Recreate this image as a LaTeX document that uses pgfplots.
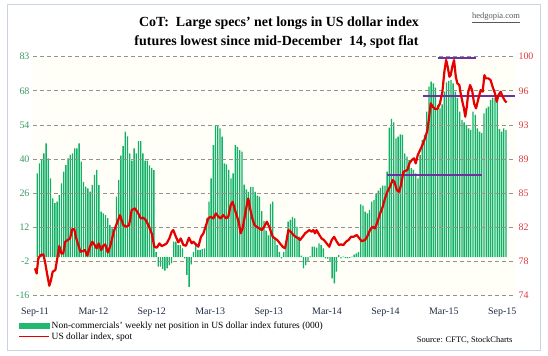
\documentclass[border=0pt]{standalone}
\usepackage{fontspec}
\setmainfont{Liberation Serif}
\usepackage{pgfplots}
\pgfplotsset{compat=1.18}
\definecolor{barfill}{HTML}{10B066}
\definecolor{legfill}{HTML}{22B870}
\definecolor{dxred}{HTML}{E60000}
\definecolor{purp}{HTML}{7030A0}
\definecolor{leftlab}{HTML}{3A9A60}
\definecolor{rightlab}{HTML}{E03A3A}
\definecolor{xlab}{HTML}{1F2A44}
\definecolor{frame}{HTML}{C8D4E1}

\pgfplotstableread{
i v
0 34.7
1 38.8
2 40.2
3 43.0
4 47.1
5 40.9
6 32.6
7 24.3
8 22.3
9 23.0
10 25.7
11 30.5
12 35.4
13 38.1
14 40.9
15 42.3
16 43.0
17 45.0
18 45.0
19 47.1
20 39.5
21 31.2
22 29.2
23 28.5
24 27.1
25 29.9
26 34.0
27 36.1
28 29.9
29 18.8
30 18.1
31 17.4
32 16.1
33 13.3
34 11.9
35 10
36 25
37 32
38 42
39 46
40 52
41 50
42 43
43 40
44 45
45 43
46 48
47 48
48 43
49 40
50 40
51 38
52 37
53 36
54 2
55 -4
56 -4
57 -4.9
58 -5.6
59 -4.7
60 -3.3
61 -2.6
62 6.4
63 6.4
64 5
65 5
66 3.6
67 -0.5
68 -7.4
69 -12.3
70 -3
71 2.2
72 5
73 3
74 3
75 3.3
76 3.6
77 16
78 23
79 32.6
80 46.4
81 54.7
82 54.7
83 53.3
84 49.9
85 38.8
86 38.4
87 36.1
88 32.6
89 34.7
90 46.4
91 45.7
92 44.3
93 43.7
94 30
95 28
96 27
97 29
98 29
99 27
100 25.5
101 25
102 19
103 15
104 11
105 9
106 22
107 23
108 7.8
109 5
110 2.2
111 -0.5
112 2.2
113 5
114 14.7
115 15.4
116 16.7
117 16
118 12.6
119 8.5
120 0.6
121 -4.7
122 -3.3
123 -1.9
124 0.3
125 4.3
126 4.3
127 3.9
128 5.7
129 5
130 3.6
131 -0.5
132 -0.6
133 -1.9
134 -8.8
135 -10.9
136 -6.0
137 0.8
138 -0.5
139 0.2
140 -0.3
141 -0.5
142 -0.3
143 0.2
144 1
145 1.5
146 2
147 21.8
148 21.3
149 18.8
150 18.1
151 19.5
152 23
153 23.6
154 26.4
155 27.5
156 28.7
157 29.6
158 29.6
159 35.4
160 53.6
161 57.2
162 55.8
163 49.2
164 49.9
165 50.8
166 50.6
167 43
168 41.6
169 40.2
170 36.8
171 36.1
172 34.7
173 32.6
174 42.3
175 48.5
176 50.6
177 60.2
178 70.6
179 72.7
180 72
181 70.2
182 63
183 61.6
184 63.3
185 68.5
186 72.4
187 73
188 73.3
189 72
190 68.5
191 65.8
192 60.2
193 56.8
194 55.8
195 54.7
196 53.3
197 52.6
198 60.2
199 58.9
200 53.3
201 52
202 51.3
203 59.5
204 61.6
205 62.3
206 65.1
207 66
208 65.8
209 64.4
210 53
211 52
212 53.3
213 52.6
}\netpos

\pgfplotstableread{
i v
-1.05 76.97
-0.29 76.42
0.47 78.06
1.53 78.42
2.74 78.49
3.5 77.70
4.56 76.24
5.47 75.08
6.23 75.70
6.98 76.61
8.2 76.79
9.1 78.06
10.0 79.40
10.9 78.60
11.8 78.60
12.7 79.87
13.8 80.05
14.9 80.23
15.8 81.21
16.8 81.25
17.7 80.23
18.6 79.58
19.6 78.78
20.6 78.85
21.7 78.96
22.7 78.35
23.95 79.33
25.0 79.87
25.9 79.58
27.0 79.15
27.9 79.69
29.0 78.96
30.0 79.44
30.9 79.58
32.0 78.71
33.1 79.33
34.1 80.31
35.0 81.14
37.6 82.77
39.1 81.68
40.6 81.50
41.7 81.68
42.9 83.32
44.4 83.50
45.9 82.95
47.0 82.41
48.2 82.48
49.3 82.23
50.5 81.68
52.0 80.78
53.2 79.33
54.3 79.22
55.5 79.69
56.5 79.40
57.6 79.51
58.8 79.69
60.0 80.23
61.1 80.96
61.8 81.14
63.0 80.41
64.1 79.80
65.2 80.23
66.4 79.51
67.6 79.44
68.9 80.31
70.2 79.69
70.9 79.87
72.4 79.51
73.2 79.33
74.4 80.41
75.5 80.78
76.7 81.68
77.7 82.41
78.8 82.59
80.0 82.41
81.2 82.95
82.3 82.59
83.3 82.41
84.5 82.77
85.8 82.41
86.8 82.59
87.9 83.86
88.8 84.22
89.6 83.50
90.6 82.77
91.7 81.86
92.4 80.78
93.3 81.32
94.4 82.77
95.5 84.22
95.9 84.59
96.7 83.50
97.7 82.41
98.7 81.68
99.7 81.50
100.9 81.32
102.0 81.14
103.1 81.50
104.3 82.05
105.4 81.50
106.3 80.90
107.0 80.41
108.0 80.23
109.1 80.05
110.3 79.69
111.5 79.33
112.6 79.15
113.3 80.05
114.1 81.14
115.2 80.96
116.4 80.60
117.4 80.41
118.7 80.23
119.4 80.05
120.6 80.41
121.7 80.78
122.7 80.96
123.6 81.14
124.7 80.96
125.5 81.14
126.2 80.78
126.9 81.14
128.2 80.60
129.2 80.23
130.3 80.05
131.5 79.69
132.7 79.33
133.8 80.05
134.9 80.41
136.1 79.87
137.1 79.51
138.0 79.58
139.1 79.51
140.3 79.87
141.4 80.05
142.6 80.41
143.7 80.41
145.2 80.60
146.4 80.23
147.4 79.94
148.9 80.05
149.9 80.41
151.2 81.14
152.4 81.50
153.5 81.32
154.6 82.05
155.8 82.95
157.0 83.68
158.0 84.59
159.1 85.31
160.3 85.86
161.5 86.58
162.3 86.40
163.4 85.49
164.4 85.31
165.3 86.04
166.4 87.49
167.1 87.56
168.2 87.67
169.1 88.39
170.2 88.76
171.2 88.94
172.0 88.39
172.9 89.30
174.0 89.85
175.0 90.39
176.2 91.11
177.3 92.02
178.0 93.29
178.8 94.92
179.7 94.56
180.8 94.31
181.8 94.31
183.0 94.92
184.1 96.19
185.0 98.37
185.8 99.64
186.5 98.91
187.3 97.82
187.9 98.00
188.6 98.91
189.4 99.64
190.2 97.82
190.9 97.10
191.8 96.92
192.4 96.01
193.2 95.10
193.9 94.38
194.5 93.47
195.2 94.56
195.9 96.19
196.7 96.92
197.6 96.37
198.5 94.92
199.4 94.38
200.5 95.47
201.5 96.37
202.4 96.19
203.2 98.00
203.9 97.64
205.0 97.64
206.0 97.46
206.9 96.74
208.0 96.01
208.8 95.10
209.6 95.83
210.6 96.19
211.5 95.65
212.6 95.18
213.3 95.03
}\dxy

\begin{document}
\begin{tikzpicture}
\path[use as bounding box] (0bp,0bp) rectangle (548bp,356bp);
\draw[frame, line width=1bp] (7bp,5bp) rectangle (540bp,351bp);

\node[font=\bfseries\fontsize{14}{16}\selectfont] at (279bp,333bp) {CoT:\ \ Large specs' net longs in US dollar index};
\node[font=\bfseries\fontsize{14}{16}\selectfont] at (276.5bp,314bp) {futures lowest since mid-December\ \ 14, spot flat};
\node[font=\fontsize{8.5}{10}\selectfont, text=gray!70!black] at (496bp,338.5bp) {\underline{hedgopia.com}};
\node[anchor=east, font=\fontsize{8.5}{10}\selectfont] at (516bp,16bp) {Source: CFTC, StockCharts};

\begin{axis}[
  at={(33bp,60.3bp)}, anchor=south west,
  scale only axis, width=482bp, height=239bp,
  xmin=-1.95, xmax=217.1, ymin=-16, ymax=83,
  axis line style={draw=none},
  major tick length=0pt,
  axis background/.style={fill={rgb,255:red,255;green,255;blue,247}},
  ytick={-16,-1.857143,12.285714,26.428571,40.571429,54.714286,68.857143,83},
  yticklabels={-16,-2,12,26,40,54,68,83},
  yticklabel style={text=leftlab, font=\fontsize{10}{12}\selectfont},
  xtick={-1.05,25.5,52.04,78.59,105.13,131.68,158.22,184.77,211.31},
  xticklabels={Sep-11,Mar-12,Sep-12,Mar-13,Sep-13,Mar-14,Sep-14,Mar-15,Sep-15},
  xticklabel style={text=xlab, font=\fontsize{10}{12}\selectfont, yshift=-9bp},
  ymajorgrids,
  grid style={gray!85, line width=0.8bp, dash pattern=on 4bp off 3bp},
  axis on top,
  clip=false,
]
\addplot[ybar, bar width=1.35bp, fill=barfill, draw=none] table[x=i,y=v] {\netpos};
\end{axis}

\begin{axis}[
  at={(33bp,60.3bp)}, anchor=south west,
  scale only axis, width=482bp, height=239bp,
  xmin=-1.95, xmax=217.1, ymin=74, ymax=100,
  axis y line*=right, axis x line=none,
  axis line style={draw=none},
  major tick length=0pt,
  xtick=\empty,
  ytick={74,77.714286,81.428571,85.142857,88.857143,92.571429,96.285714,100},
  yticklabels={74,78,82,85,89,93,96,100},
  yticklabel style={text=rightlab, font=\fontsize{10}{12}\selectfont},
  legend style={at={(-0.031,-0.10)}, anchor=north west, draw=none, fill=none,
    font=\fontsize{9.5}{11}\selectfont, row sep=-1.5bp, inner sep=0pt},
  legend cell align=left,
  clip=false,
]
\addlegendimage{legend image code/.code={\fill[legfill] (0bp,-2.5bp) rectangle (30bp,2.5bp);}}
\addlegendentry{Non-commercials' weekly net position in US dollar index futures (000)}
\addplot[purp, line width=2.2bp, forget plot] coordinates {(181.9,99.9) (199.6,99.9)};
\addplot[purp, line width=2bp, forget plot] coordinates {(175.2,95.72) (217.1,95.72)};
\addplot[purp, line width=2bp, forget plot] coordinates {(159.1,87.13) (202,87.13)};
\addplot[dxred, line width=2.2bp, line join=round,
  legend image code/.code={\draw[dxred,line width=1.5bp] (0bp,0bp)--(30bp,0bp);}]
  table[x=i,y=v] {\dxy};
\addlegendentry{US dollar index, spot}
\end{axis}
\end{tikzpicture}
\end{document}
